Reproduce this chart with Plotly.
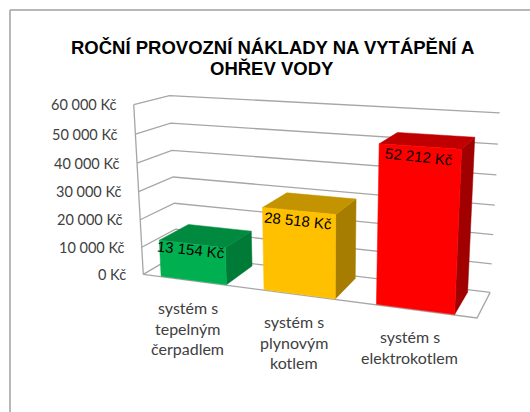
import numpy as np
import plotly.graph_objects as go

# ---- data ----
categories = ["systém s<br>tepelným<br>čerpadlem", "systém s<br>plynovým<br>kotlem", "systém s<br>elektrokotlem"]
values = [13154, 28518, 52212]
value_labels = ["13 154 Kč", "28 518 Kč", "52 212 Kč"]
tick_values = [0, 10000, 20000, 30000, 40000, 50000, 60000]
tick_labels = ["0 Kč", "10 000 Kč", "20 000 Kč", "30 000 Kč", "40 000 Kč", "50 000 Kč", "60 000 Kč"]
title_text = "ROČNÍ PROVOZNÍ NÁKLADY NA VYTÁPĚNÍ A<br>OHŘEV VODY"

# ---- colours: front, top, side ----
face_colors = ["#00B050", "#FFC000", "#FF0000"]
top_colors = ["#008A3F", "#C49400", "#C00000"]
side_colors = ["#007A37", "#A67D00", "#A00000"]
GRID = "#A6A6A6"
FRAME = "#A0A0A0"
TEXT = "#404040"

# ---- camera: perspective projection fitted to the view of the box ----
# (category position, value share of axis, depth) -> screen position
VMAX = 60000.0
shares = [1, 5 / 6, 4 / 6, 3 / 6, 2 / 6, 1 / 6, 0]
view = []
for s, a, b, c in zip(shares,
                      [(133, 105), (135, 134), (137, 163), (139, 192), (141, 219), (142, 247), (143, 275)],
                      [(170, 96), (170, 123), (172, 150), (174, 177), (175, 203), (175, 229), (176, 255)],
                      [(500, 113), (498, 144), (496, 175), (495, 205), (493, 235), (492, 264), (490, 292)]):
    view += [((0, s, 0), a), ((0, s, 1), b), ((3, s, 1), c)]
view.append(((3, 0, 0), (477, 318)))

A, B = [], []
for (X, Y, Z), (u, v) in view:
    A.append([X, Y, Z, 1, 0, 0, 0, 0, -u * X, -u * Y, -u * Z])
    B.append(u)
    A.append([0, 0, 0, 0, X, Y, Z, 1, -v * X, -v * Y, -v * Z])
    B.append(v)
P = np.append(np.linalg.lstsq(np.array(A, float), np.array(B, float), rcond=None)[0], 1).reshape(3, 4)


def project(cat, value, depth):
    h = P @ np.array([cat, value / VMAX, depth, 1.0])
    return h[0] / h[2], h[1] / h[2]


def path(points):
    xy = [project(*p) for p in points]
    return [p[0] for p in xy], [p[1] for p in xy]


fig = go.Figure()

# ---- walls and floor ----
gx, gy = [], []
for t in tick_values:
    x, y = path([(0, t, 0), (0, t, 1), (3, t, 1)])
    gx += x + [None]
    gy += y + [None]
for seg in ([(0, 0, 0), (0, VMAX, 0)], [(0, 0, 0), (3, 0, 0), (3, 0, 1)]):
    x, y = path(seg)
    gx += x + [None]
    gy += y + [None]
fig.add_trace(go.Scatter(x=gx, y=gy, mode="lines", line=dict(color=GRID, width=1.3), hoverinfo="skip"))

# ---- bars ----
L, R = 0.175, 0.82
D0, D1 = 0.02, 0.90
for i, v in enumerate(values):
    a, b = i + L, i + R
    faces = [
        ([(b, 0, D0), (b, 0, D1), (b, v, D1), (b, v, D0), (b, 0, D0)], side_colors[i]),
        ([(a, v, D0), (b, v, D0), (b, v, D1), (a, v, D1), (a, v, D0)], top_colors[i]),
        ([(a, 0, D0), (b, 0, D0), (b, v, D0), (a, v, D0), (a, 0, D0)], face_colors[i]),
    ]
    for pts, col in faces:
        x, y = path(pts)
        fig.add_trace(go.Scatter(x=x, y=y, mode="lines", fill="toself", fillcolor=col,
                                 line=dict(color=col, width=0.5), hoverinfo="skip"))

# ---- texts ----
annotations = []
for t, lab in zip(tick_values, tick_labels):
    x, y = project(0, t, 0)
    annotations.append(dict(x=x, y=y, text=lab, xanchor="right", yanchor="middle", xshift=-15, yshift=0,
                            showarrow=False, font=dict(family="Lato", size=14.5, color=TEXT)))
label_drop = [5, 10, 10]
for i, (v, lab) in enumerate(zip(values, value_labels)):
    x, y = project(i + 0.5, v, D0)
    annotations.append(dict(x=x, y=y, text=lab, xanchor="center", yanchor="middle", yshift=-label_drop[i],
                            xshift=-1, textangle=6, showarrow=False,
                            font=dict(family="Liberation Sans", size=15, color="#000000")))
for i, cat in enumerate(categories):
    x, y = project(i + 0.5, 0, 0)
    for k, line in enumerate(cat.split("<br>")):
        annotations.append(dict(x=x, y=y, text=line, xanchor="center", yanchor="middle", xshift=-5,
                                yshift=-(27 + 20.5 * k), showarrow=False,
                                font=dict(family="Lato", size=16, color=TEXT)))
for k, line in enumerate(title_text.split("<br>")):
    annotations.append(dict(x=272, y=47 + 21 * k, text="<b>" + line + "</b>", xanchor="center", yanchor="middle",
                            showarrow=False, font=dict(family="Liberation Sans", size=18.5, color="#000000")))

fig.update_layout(
    width=530, height=412, margin=dict(l=0, r=0, t=0, b=0),
    paper_bgcolor="white", plot_bgcolor="white", showlegend=False,
    xaxis=dict(range=[0, 530], visible=False, fixedrange=True),
    yaxis=dict(range=[412, 0], visible=False, fixedrange=True),
    annotations=annotations,
    shapes=[dict(type="line", x0=10, y0=412, x1=10, y1=10, line=dict(color=FRAME, width=1.5)),
            dict(type="line", x0=10, y0=10, x1=530, y1=10, line=dict(color=FRAME, width=1.5))],
)
fig.write_html("out.html", config={"displayModeBar": False},
               post_script="document.body.style.margin='0';document.body.style.overflow='hidden';")
